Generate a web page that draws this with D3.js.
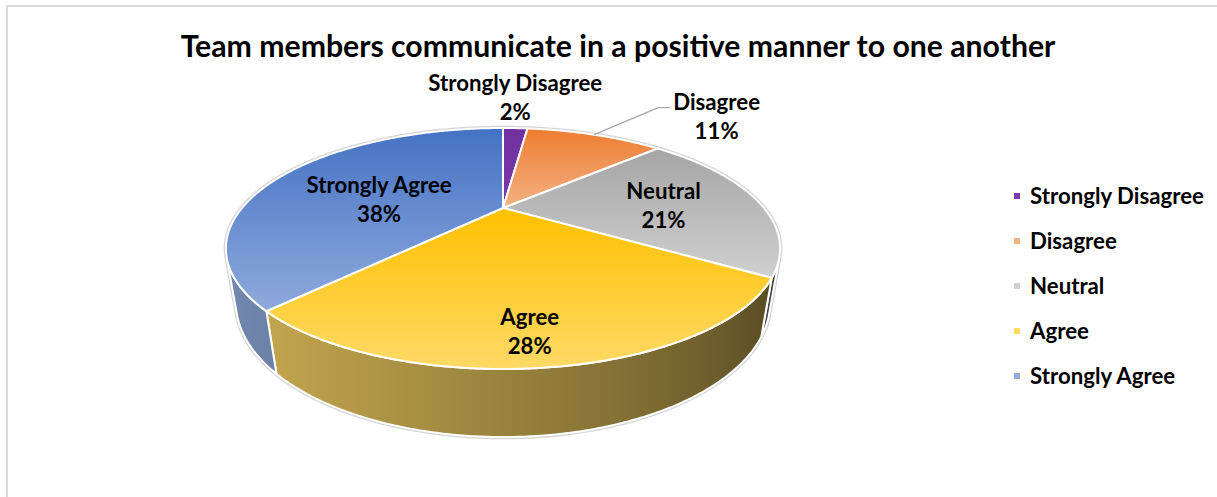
<!DOCTYPE html>
<html>
<head>
<meta charset="utf-8">
<script src="https://cdn.jsdelivr.net/npm/d3@7"></script>
<style>
  body { margin: 0; background: #fff; }
  svg text { font-family: Lato, "Open Sans", "DejaVu Sans", sans-serif; font-weight: 700; fill: #000; }
</style>
</head>
<body>
<svg id="chart" width="1217" height="497"></svg>
<script>
// ---- data ----
const titleText = "Team members communicate in a positive manner to one another";
const categories = ["Strongly Disagree", "Disagree", "Neutral", "Agree", "Strongly Agree"];
const percentages = [2, 11, 21, 28, 38];
const percentLabels = ["2%", "11%", "21%", "28%", "38%"];
const sliceColors = ["#7030a0", "#ed7d31", "#a5a5a5", "#ffc000", "#4472c4"];
const sliceTints  = ["#7b3aab", "#f4b183", "#d0d0d0", "#ffd966", "#8faadc"];

// ---- layout ----
const W = 1217, H = 497;
const svg = d3.select("#chart");
const defs = svg.append("defs");

// camera looking down on a unit-radius disc (perspective)
const cam = { cx: 503, cy: 208, F: 708.6, D: 2.715, sa: 0.4096, h: 0.222 };
cam.ca = Math.sqrt(1 - cam.sa * cam.sa);

// angle: clockwise from 12 o'clock; r: radius fraction; y: height (0 = top face)
function project(angle, r, y) {
  const x = r * Math.sin(angle), z = -r * Math.cos(angle);
  const depth = cam.D - y * cam.sa - z * cam.ca;
  return [cam.cx + cam.F * x / depth, cam.cy + cam.F * (z * cam.sa - y * cam.ca) / depth];
}
function samples(a0, a1) {
  const n = Math.max(2, Math.ceil((a1 - a0) / (Math.PI / 360)));
  return d3.range(n + 1).map(i => a0 + (a1 - a0) * i / n);
}
// simple directional light on the rim wall
function brightness(angle) {
  const x = Math.sin(angle), z = -Math.cos(angle);
  return 0.53 - 0.266 * x + 0.07 * z;
}
function shade(color, k) {
  const c = d3.rgb(color);
  return d3.rgb(c.r * k, c.g * k, c.b * k).formatHex();
}

// chart frame
svg.append("rect")
  .attr("x", 7).attr("y", 6).attr("width", W + 20).attr("height", H + 20)
  .attr("fill", "#fff").attr("stroke", "#d9d9d9").attr("stroke-width", 2);

// title
const title = svg.append("text")
  .attr("x", 618).attr("y", 57)
  .attr("text-anchor", "middle")
  .style("font-size", "26px")
  .text(titleText);
{
  const w = title.node().getComputedTextLength();
  title.style("font-size", (26 * 875 / w).toFixed(2) + "px");
}

const rows = categories.map((c, i) => ({
  category: c, value: percentages[i], label: percentLabels[i],
  color: sliceColors[i], tint: sliceTints[i]
}));
const pie = d3.pie().sort(null).value(d => d.value).startAngle(0).endAngle(2 * Math.PI);
const arcs = pie(rows);

const closed = d3.line().curve(d3.curveLinearClosed);
const open = d3.line();

// visible part of the rim wall
const visStart = Math.acos(-1 / (cam.D * cam.ca));
const visEnd = 2 * Math.PI - visStart;

const g = svg.append("g");

// soft outline around the whole disc
{
  const pts = samples(visEnd, visStart + 2 * Math.PI).map(a => project(a, 1, 0))
    .concat(samples(visStart, visEnd).map(a => project(a, 1, -cam.h)));
  g.append("path").attr("d", closed(pts))
    .attr("fill", "none").attr("stroke", "#d4d4d4").attr("stroke-width", 4.5)
    .attr("stroke-linejoin", "round");
}

// rim walls
arcs.forEach((a, i) => {
  const s = Math.max(a.startAngle, visStart), e = Math.min(a.endAngle, visEnd);
  if (s >= e) return;
  const angs = samples(s, e);
  const top = angs.map(t => project(t, 1, 0));
  const bot = angs.map(t => project(t, 1, -cam.h)).reverse();
  const x1 = top[0][0], x2 = top[top.length - 1][0];
  const gid = "wall" + i;
  const grad = defs.append("linearGradient").attr("id", gid)
    .attr("gradientUnits", "userSpaceOnUse")
    .attr("x1", x1).attr("y1", 0).attr("x2", x2).attr("y2", 0);
  const n = Math.max(2, Math.ceil((e - s) / (Math.PI / 60)));
  d3.range(n + 1).forEach(k => {
    const t = s + (e - s) * k / n;
    const px = project(t, 1, 0)[0];
    grad.append("stop")
      .attr("offset", ((px - x1) / (x2 - x1)).toFixed(4))
      .attr("stop-color", shade(a.data.tint, brightness(t)));
  });
  g.append("path").attr("d", closed(top.concat(bot)))
    .attr("fill", `url(#${gid})`)
    .attr("stroke", "#fff").attr("stroke-width", 2).attr("stroke-linejoin", "round");
});

// top faces
arcs.forEach((a, i) => {
  const gid = "face" + i;
  const grad = defs.append("linearGradient").attr("id", gid)
    .attr("x1", 0).attr("y1", 0).attr("x2", 0).attr("y2", 1);
  grad.append("stop").attr("offset", 0).attr("stop-color", a.data.color);
  grad.append("stop").attr("offset", 1).attr("stop-color", a.data.tint);
  const pts = [project(0, 0, 0)].concat(samples(a.startAngle, a.endAngle).map(t => project(t, 1, 0)));
  g.append("path").attr("d", closed(pts))
    .attr("fill", `url(#${gid})`)
    .attr("stroke", "#fff").attr("stroke-width", 2).attr("stroke-linejoin", "round");
});

// ---- data labels ----
const labelFont = 20;
const lineGap = 28.5;
// placement of each label: inside at a radius fraction, or outside above the rim
const labelPlacement = [
  { mode: "above" },
  { mode: "leader", dx: 64, dy: -27, run: 12 },
  { mode: "inside", r: 0.63, dy: 4 },
  { mode: "inside", r: 0.80, dy: 8, dx: -9 },
  { mode: "inside", r: 0.545, dy: 12 }
];

// scale font so that metrics are comparable to the legend
const probe = svg.append("text").style("font-size", labelFont + "px").text("Strongly Disagree");
const fontScale = 174 / probe.node().getComputedTextLength();
probe.remove();
const fs = labelFont * fontScale;

function twoLine(cx, cyTop, name, pct) {
  const t = svg.append("g");
  t.append("text").attr("x", cx).attr("y", cyTop + fs * 0.35)
    .attr("text-anchor", "middle").style("font-size", fs + "px").text(name);
  t.append("text").attr("x", cx).attr("y", cyTop + lineGap + fs * 0.35)
    .attr("text-anchor", "middle").style("font-size", fs + "px").text(pct);
  return t;
}

arcs.forEach((a, i) => {
  const p = labelPlacement[i];
  const mid = (a.startAngle + a.endAngle) / 2;
  if (p.mode === "inside") {
    const [x, y] = project(mid, p.r, 0);
    twoLine(x + (p.dx || 0), y + p.dy - lineGap / 2, a.data.category, a.data.label);
  } else if (p.mode === "above") {
    const [x, y] = project(mid, 1, 0);
    twoLine(x, y - 16 - lineGap, a.data.category, a.data.label);
  } else {
    const [x, y] = project(mid, 1, 0);
    const ex = x + p.dx, ey = y + p.dy;
    svg.append("path")
      .attr("d", open([[x, y], [ex, ey], [ex + p.run, ey]]))
      .attr("fill", "none").attr("stroke", "#a6a6a6").attr("stroke-width", 1.3);
    const tmp = svg.append("text").style("font-size", fs + "px").text(a.data.category);
    const w = tmp.node().getComputedTextLength();
    tmp.remove();
    twoLine(ex + p.run + 3 + w / 2, ey - 5, a.data.category, a.data.label);
  }
});

// ---- legend ----
const legend = svg.append("g").attr("transform", "translate(1014,196)");
rows.forEach((d, i) => {
  const row = legend.append("g").attr("transform", `translate(0,${i * 45})`);
  row.append("rect").attr("x", 0).attr("y", -3).attr("width", 6).attr("height", 6)
    .attr("fill", d.tint);
  row.append("text").attr("x", 16).attr("y", fs * 0.35)
    .style("font-size", fs + "px").text(d.category);
});
</script>
</body>
</html>
